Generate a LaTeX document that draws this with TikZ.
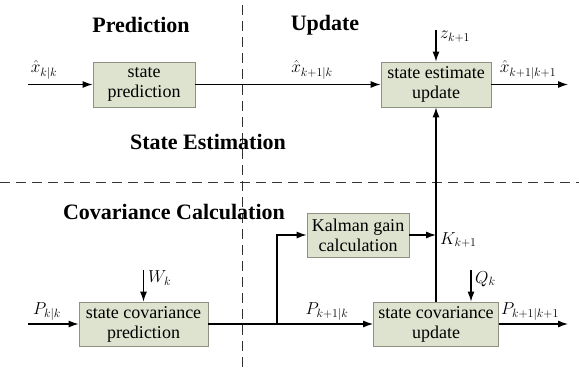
\documentclass[tikz,border=0pt]{standalone}
\usepackage{amsmath,amssymb}
\usepackage{fontspec}
\setmainfont{Liberation Serif}
\usepackage{tikz}
\usetikzlibrary{arrows.meta,positioning}
\definecolor{boxfill}{RGB}{221,227,207}
\definecolor{boxline}{RGB}{140,145,130}

\begin{document}
\begin{tikzpicture}[
  x=1pt, y=-1pt,
  block/.style={rectangle, draw=boxline, fill=boxfill, line width=0.8pt, align=center,
    font=\fontsize{18}{20}\selectfont, inner sep=0pt},
  title/.style={font=\fontsize{22}{24}\selectfont\bfseries},
  lbl/.style={font=\fontsize{18}{20}\selectfont, inner sep=1pt},
  flow/.style={draw, line width=1.2pt, -{Latex[length=10pt,width=7pt]}},
  sep/.style={draw, line width=0.7pt, dash pattern=on 10pt off 6pt, gray!40!black}
]
\useasboundingbox (0,0) rectangle (579,372);
% separators
\draw[sep] (242,5) -- (242,372);
\draw[sep] (0,182) -- (579,182);
% titles
\node[title] (tpred) at (141,25) {Prediction};
\node[title] (tupd) at (325,25) {Update};
\node[title] (test) at (208,142) {State Estimation};
\node[title] (tcov) at (174,212) {Covariance Calculation};
% blocks
\node[block, minimum width=102pt, minimum height=45pt] (sp) at (144,84.5) {state\\prediction};
\node[block, minimum width=110pt, minimum height=45pt] (seu) at (436,84.5) {state estimate\\update};
\node[block, minimum width=102pt, minimum height=44pt] (kal) at (358,235) {Kalman gain\\calculation};
\node[block, minimum width=129pt, minimum height=44pt] (scp) at (143.5,324) {state covariance\\prediction};
\node[block, minimum width=125pt, minimum height=44pt] (scu) at (436,324) {state covariance\\update};
% free ends
\coordinate (xin) at (28,84.5);
\coordinate (xout) at (568,84.5);
\coordinate (zin) at (436,30);
\coordinate (pin) at (28,324);
\coordinate (pout) at (568,324);
\coordinate (win) at (143.5,270);
\coordinate (qin) at (471,270);
\coordinate (fork) at (277,324);
\coordinate (bend) at (277,235);
\coordinate (kjoin) at (436,235);
% state estimation
\draw[flow] (xin) -- (sp.west);
\draw[flow] (sp.east) -- (seu.west);
\draw[flow] (seu.east) -- (xout);
\draw[flow] (zin) -- (seu.north);
\draw[flow] (scu.north) -- (seu.south);
% covariance
\draw[flow] (pin) -- (scp.west);
\draw[flow] (win) -- (scp.north);
\draw[flow] (scp.east) -- (scu.west);
\draw[flow] (fork) -- (bend) -- (kal.west);
\draw[flow] (kal.east) -- (kjoin);
\draw[flow] (qin) -- (qin |- scu.north);
\draw[flow] (scu.east) -- (pout);
% labels
\node[lbl] (lxin) at (44,70) {$\hat{x}_{k|k}$};
\node[lbl] (lxp) at (312,70) {$\hat{x}_{k+1|k}$};
\node[lbl] (lxout) at (528,70) {$\hat{x}_{k+1|k+1}$};
\node[lbl, anchor=west] (lz) at (439,37) {$z_{k+1}$};
\node[lbl] (lpin) at (47,312) {$P_{k|k}$};
\node[lbl, anchor=west] (lw) at (147,278) {$W_k$};
\node[lbl] (lpp) at (327,312) {$P_{k+1|k}$};
\node[lbl, anchor=west] (lq) at (474,279) {$Q_k$};
\node[lbl, anchor=west] (lk) at (439,240) {$K_{k+1}$};
\node[lbl] (lpout) at (530,312) {$P_{k+1|k+1}$};
\end{tikzpicture}
\end{document}
